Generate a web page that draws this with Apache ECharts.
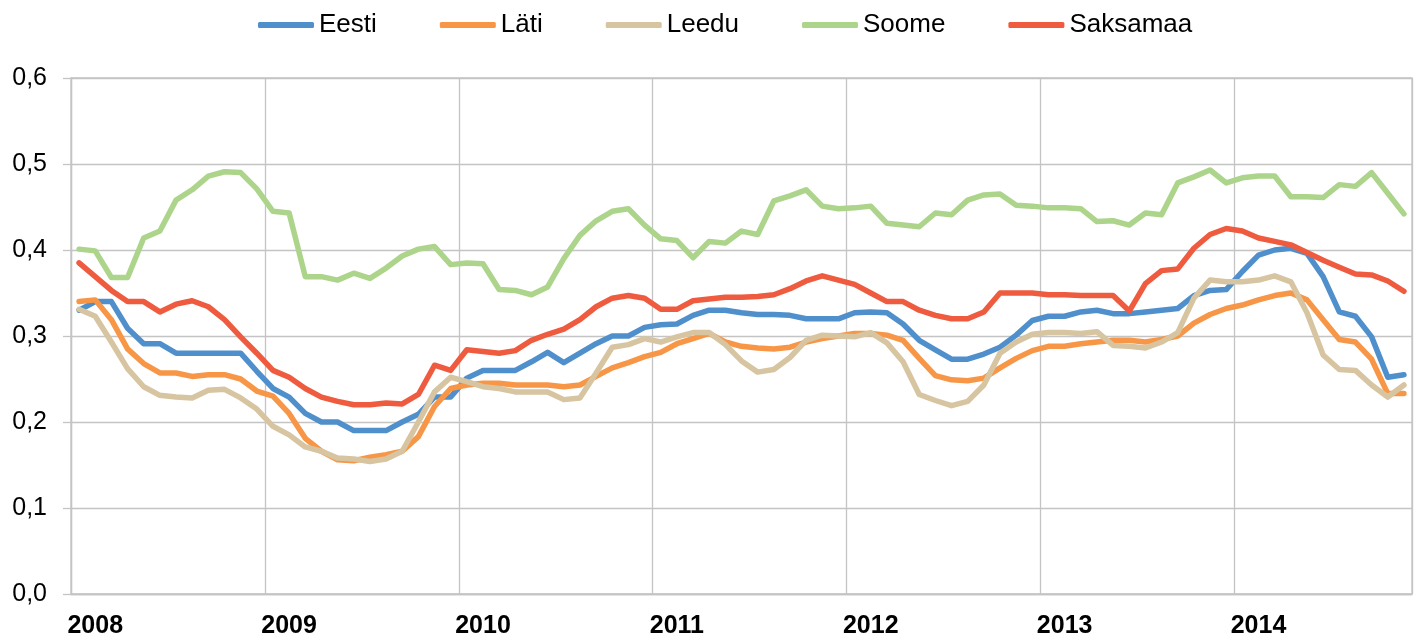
<!DOCTYPE html>
<html>
<head>
<meta charset="utf-8">
<script src="https://cdn.jsdelivr.net/npm/echarts@6/dist/echarts.min.js"></script>
<style>
html,body{margin:0;padding:0;background:#fff;}
#chart{width:1421px;height:643px;}
</style>
</head>
<body>
<div id="chart"></div>
<script>
// Monthly data, Jan 2008 – Nov 2014
var years = ['2008','2009','2010','2011','2012','2013','2014'];
var monthsInLastYear = 11;
var categories = [];
years.forEach(function (y, yi) {
  var n = (yi === years.length - 1) ? monthsInLastYear : 12;
  for (var m = 1; m <= n; m++) categories.push(y + '-' + (m < 10 ? '0' + m : m));
});

var eesti = [0.330,0.340,0.340,0.309,0.291,0.291,0.280,0.280,0.280,0.280,0.280,0.259,
  0.239,0.229,0.210,0.200,0.200,0.190,0.190,0.190,0.200,0.209,0.229,0.229,
  0.251,0.260,0.260,0.260,0.270,0.281,0.269,0.280,0.291,0.300,0.300,0.310,
  0.313,0.314,0.324,0.330,0.330,0.327,0.325,0.325,0.324,0.320,0.320,0.320,
  0.327,0.328,0.327,0.314,0.295,0.284,0.273,0.273,0.279,0.287,0.301,0.318,
  0.323,0.323,0.328,0.330,0.326,0.326,0.328,0.330,0.332,0.347,0.353,0.354,
  0.375,0.394,0.400,0.402,0.396,0.369,0.328,0.323,0.299,0.252,0.255];

var lati = [0.340,0.342,0.319,0.285,0.268,0.257,0.257,0.253,0.255,0.255,0.250,0.236,
  0.230,0.210,0.181,0.166,0.156,0.155,0.159,0.162,0.166,0.183,0.218,0.239,
  0.243,0.245,0.245,0.243,0.243,0.243,0.241,0.243,0.253,0.263,0.269,0.276,
  0.281,0.291,0.297,0.303,0.293,0.288,0.286,0.285,0.287,0.293,0.297,0.300,
  0.303,0.303,0.301,0.295,0.274,0.254,0.249,0.248,0.251,0.263,0.274,0.283,
  0.288,0.288,0.291,0.293,0.295,0.295,0.293,0.296,0.300,0.315,0.325,0.332,
  0.336,0.342,0.347,0.350,0.342,0.319,0.296,0.293,0.273,0.233,0.233];

var leedu = [0.331,0.323,0.293,0.262,0.241,0.231,0.229,0.228,0.237,0.238,0.228,0.215,
  0.195,0.185,0.171,0.166,0.158,0.157,0.154,0.157,0.166,0.200,0.235,0.252,
  0.247,0.241,0.239,0.235,0.235,0.235,0.226,0.228,0.257,0.287,0.290,0.297,
  0.293,0.299,0.304,0.304,0.290,0.271,0.258,0.261,0.275,0.295,0.301,0.300,
  0.299,0.304,0.292,0.270,0.232,0.225,0.219,0.224,0.243,0.280,0.293,0.302,
  0.304,0.304,0.303,0.305,0.289,0.288,0.286,0.293,0.304,0.344,0.365,0.363,
  0.363,0.365,0.370,0.363,0.327,0.278,0.261,0.260,0.243,0.229,0.243];

var soome = [0.401,0.399,0.368,0.368,0.414,0.422,0.458,0.470,0.486,0.491,0.490,0.471,
  0.445,0.443,0.369,0.369,0.365,0.373,0.367,0.379,0.393,0.401,0.404,0.383,
  0.385,0.384,0.354,0.353,0.348,0.357,0.390,0.417,0.434,0.445,0.448,0.429,
  0.413,0.411,0.391,0.410,0.408,0.422,0.418,0.457,0.463,0.470,0.451,0.448,
  0.449,0.451,0.431,0.429,0.427,0.443,0.441,0.458,0.464,0.465,0.452,0.451,
  0.449,0.449,0.448,0.433,0.434,0.429,0.443,0.441,0.478,0.485,0.493,0.478,
  0.484,0.486,0.486,0.462,0.462,0.461,0.476,0.474,0.490,0.466,0.442];

var saksamaa = [0.385,0.369,0.353,0.340,0.340,0.328,0.337,0.341,0.334,0.319,0.299,0.280,
  0.260,0.252,0.239,0.229,0.224,0.220,0.220,0.222,0.221,0.232,0.266,0.260,
  0.284,0.282,0.280,0.283,0.295,0.302,0.308,0.319,0.334,0.344,0.347,0.344,
  0.331,0.331,0.341,0.343,0.345,0.345,0.346,0.348,0.355,0.364,0.370,0.365,
  0.360,0.350,0.340,0.340,0.330,0.324,0.320,0.320,0.328,0.350,0.350,0.350,
  0.348,0.348,0.347,0.347,0.347,0.329,0.361,0.376,0.378,0.402,0.418,0.425,
  0.422,0.414,0.410,0.406,0.397,0.388,0.380,0.372,0.371,0.364,0.352];

var seriesNames = ['Eesti','Läti','Leedu','Soome','Saksamaa'];
var seriesData = [eesti, lati, leedu, soome, saksamaa];
var colors = ['#4f8fcc','#f79646','#d7c4a0','#acd48a','#ef5b3f'];

var FONT = '"Liberation Sans", Arial, sans-serif';
var GRID_COLOR = '#c4c4c4';

var chart = echarts.init(document.getElementById('chart'), null, {renderer: 'canvas'});
chart.setOption({
  animation: false,
  backgroundColor: '#fff',
  color: colors,
  legend: {
    top: 7,
    left: 253,
    icon: 'roundRect',
    itemWidth: 56,
    itemHeight: 6,
    itemGap: 63,
    textStyle: {fontFamily: FONT, fontSize: 26, color: '#000'},
    data: seriesNames
  },
  grid: {
    left: 71, right: 9, top: 78, bottom: 49,
    show: true, borderColor: GRID_COLOR, borderWidth: 1.3
  },
  xAxis: {
    type: 'category',
    boundaryGap: true,
    data: categories,
    axisLine: {show: true, lineStyle: {color: GRID_COLOR, width: 1.3}},
    axisTick: {show: false},
    splitLine: {
      show: true,
      interval: function (index) { return index % 12 === 0; },
      lineStyle: {color: GRID_COLOR, width: 1.3}
    },
    axisLabel: {
      interval: function (index) { return index % 12 === 1; },
      formatter: function (v) { return v.slice(0, 4); },
      fontFamily: FONT, fontSize: 25, fontWeight: 'bold', color: '#000',
      margin: 20
    }
  },
  yAxis: {
    type: 'value',
    min: 0, max: 0.6, interval: 0.1,
    axisLine: {show: true, lineStyle: {color: GRID_COLOR, width: 1.3}},
    axisTick: {show: true, length: 8, lineStyle: {color: GRID_COLOR, width: 1.3}},
    splitLine: {show: true, lineStyle: {color: GRID_COLOR, width: 1.3}},
    axisLabel: {
      formatter: function (v) { return v.toFixed(1).replace('.', ','); },
      fontFamily: FONT, fontSize: 25, color: '#000',
      margin: 24
    }
  },
  series: seriesNames.map(function (name, i) {
    return {
      name: name,
      type: 'line',
      data: seriesData[i],
      symbol: 'none',
      showSymbol: false,
      smooth: false,
      lineStyle: {width: 5.5, color: colors[i], cap: 'round', join: 'round'},
      itemStyle: {color: colors[i]},
      z: 2 + i
    };
  })
});
</script>
</body>
</html>
